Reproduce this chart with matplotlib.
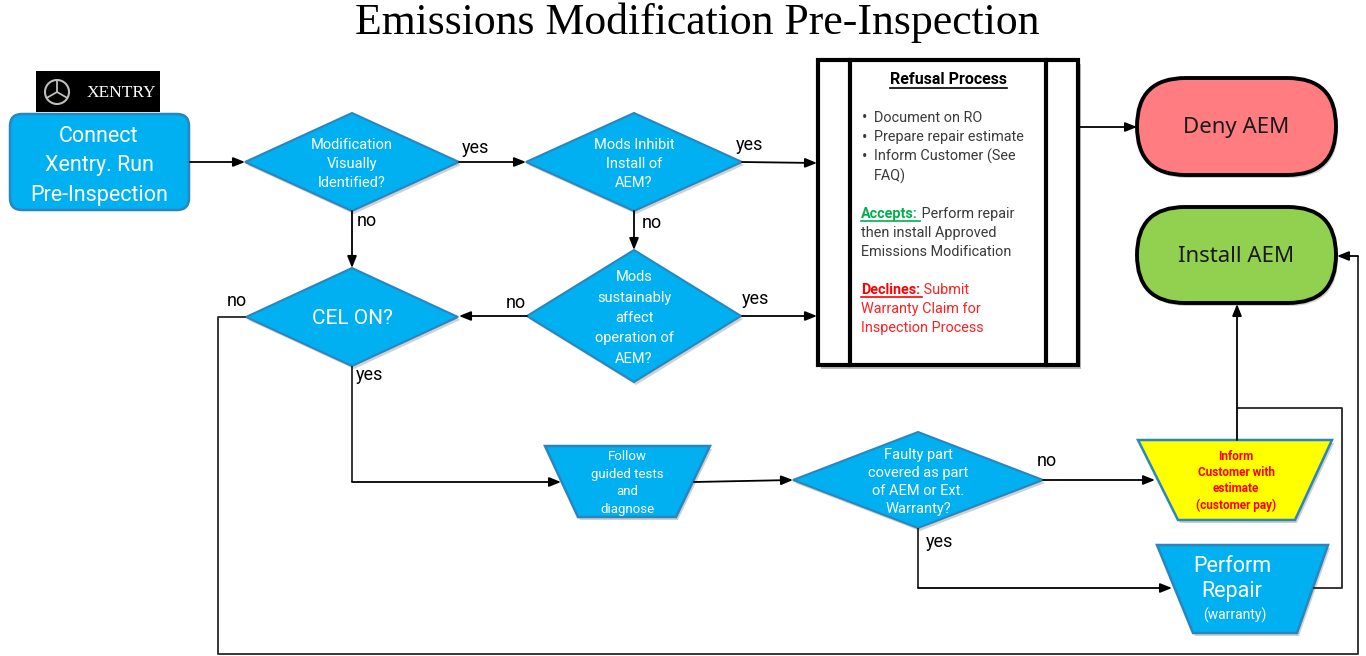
import matplotlib
matplotlib.use("Agg")
import matplotlib.pyplot as plt
from matplotlib.patches import Polygon, FancyBboxPatch, Rectangle, Circle
import numpy as np

# ---------------- content ----------------
title = "Emissions Modification Pre-Inspection"
logo_text = "XENTRY"
start_label = "Connect\nXentry. Run\nPre-Inspection"
decision_labels = [
    "Modification\nVisually\nIdentified?",
    "Mods Inhibit\nInstall of\nAEM?",
    "Mods\nsustainably\naffect\noperation of\nAEM?",
    "CEL ON?",
    "Faulty part\ncovered as part\nof AEM or Ext.\nWarranty?",
]
process_labels = ["Follow\nguided tests\nand\ndiagnose",
                  "Inform\nCustomer with\nestimate\n(customer pay)",
                  "Perform\nRepair"]
warranty_note = "(warranty)"
terminal_labels = ["Deny AEM", "Install AEM"]
refusal_title = "Refusal Process"
refusal_bullets = ["Document on RO", "Prepare repair estimate",
                   "Inform Customer (See", "FAQ)"]
accepts_head = "Accepts:"
accepts_lines = [" Perform repair", "then install Approved", "Emissions Modification"]
declines_head = "Declines:"
declines_lines = [" Submit", "Warranty Claim for", "Inspection Process"]
edge_labels = ["yes", "no"]

# ---------------- styles ----------------
BLUE = "#00B0F0"
BLUE_EDGE = "#2A86BE"
DENY = "#FF7C80"
INSTALL = "#92D050"
YELLOW = "#FFFF00"
LINE = "#262626"
SANS = ["Roboto", "DejaVu Sans"]

fig = plt.figure(figsize=(13.66, 6.56), dpi=100)
ax = fig.add_axes([0, 0, 1, 1])
ax.set_xlim(0, 1366)
ax.set_ylim(656, 0)
ax.axis("off")


def txt(x, y, s, size, color="white", weight="normal", ha="center",
        va="center", ls=1.2, family=SANS, z=6):
    return ax.text(x, y, s, fontsize=size, color=color, fontweight=weight,
                   ha=ha, va=va, linespacing=ls, family=family, zorder=z)


def diamond(cx, cy, hw, hh, label, size=10.5, ls=1.42):
    pts = [(cx - hw, cy), (cx, cy - hh), (cx + hw, cy), (cx, cy + hh)]
    ax.add_patch(Polygon([(px + 2, py + 3) for px, py in pts], closed=True,
                         fc="#d0d0d0", ec="none", zorder=2))
    ax.add_patch(Polygon(pts, closed=True, fc=BLUE, ec=BLUE_EDGE, lw=1.5, zorder=3))
    txt(cx, cy + 2, label, size, ls=ls)


def trap(xtl, xtr, xbl, xbr, yt, yb, fc=BLUE):
    pts = [(xtl, yt), (xtr, yt), (xbr, yb), (xbl, yb)]
    ax.add_patch(Polygon([(px + 2, py + 3) for px, py in pts], closed=True,
                         fc="#d0d0d0", ec="none", zorder=2))
    ax.add_patch(Polygon(pts, closed=True, fc=fc, ec=BLUE_EDGE, lw=1.8, zorder=3))


def conn(pts, head=True):
    pts = list(pts)
    if len(pts) > 2 or not head:
        xs = [p[0] for p in pts[:-1]] if head else [p[0] for p in pts]
        ys = [p[1] for p in pts[:-1]] if head else [p[1] for p in pts]
        ax.plot(xs, ys, color=LINE, lw=1.3, zorder=4, solid_capstyle="butt")
    if head:
        ax.annotate("", xy=pts[-1], xytext=pts[-2],
                    arrowprops=dict(arrowstyle="-|>,head_length=0.7,head_width=0.28",
                                    color="black", lw=1.3, shrinkA=0, shrinkB=0),
                    zorder=5)


def pill(x0, y0, x1, y1, fc, label):
    r = (y1 - y0) / 2
    ax.add_patch(FancyBboxPatch((x0 + 2, y0 + 3), x1 - x0, y1 - y0,
                                boxstyle=f"round,pad=0,rounding_size={r}",
                                fc="#cfcfcf", ec="none", zorder=2))
    ax.add_patch(FancyBboxPatch((x0, y0), x1 - x0, y1 - y0,
                                boxstyle=f"round,pad=0,rounding_size={r}",
                                fc=fc, ec="black", lw=2.8, zorder=3))
    txt((x0 + x1) / 2, (y0 + y1) / 2 + 1, label, 16, color="#1a1a1a",
        family=["Noto Sans", "DejaVu Sans"])


# ---------------- title ----------------
txt(697, 23, title, 31.5, color="black", family=["Liberation Serif", "DejaVu Serif"])

# ---------------- Xentry logo + start ----------------
ax.add_patch(Rectangle((36, 71), 124, 41, fc="black", ec="none", zorder=3))
ax.add_patch(Circle((57, 92), 12, fc="none", ec="#bdbdbd", lw=1.5, zorder=4))
for ang in (90, 210, 330):
    a = np.deg2rad(ang)
    ax.plot([57, 57 + 11 * np.cos(a)], [92, 92 - 11 * np.sin(a)],
            color="#bdbdbd", lw=1.3, zorder=4)
txt(121, 93, logo_text, 12.5, color="white",
    family=["Liberation Serif", "DejaVu Serif"])

ax.add_patch(FancyBboxPatch((10, 114), 179, 96, boxstyle="round,pad=0,rounding_size=12",
                            fc=BLUE, ec=BLUE_EDGE, lw=1.8, zorder=3))
txt(99, 166, start_label, 15.5, ls=1.5)

# ---------------- decisions ----------------
diamond(352, 162, 107, 49, decision_labels[0])
diamond(634, 162, 108, 49, decision_labels[1])
diamond(634, 316, 107, 66, decision_labels[2], ls=1.57)
diamond(352, 317, 106, 49, decision_labels[3], size=15)
diamond(918, 480, 125, 48, decision_labels[4], ls=1.37)

# ---------------- processes ----------------
trap(545, 710, 578, 676, 446, 517)
txt(627, 483, process_labels[0], 9.5, ls=1.46)
trap(1138, 1332, 1178, 1295, 440, 520, fc=YELLOW)
txt(1236, 481, process_labels[1], 8.5, color="#FF0000", weight="bold", ls=1.3)
trap(1157, 1328, 1193, 1297, 545, 633)
txt(1232, 579, process_labels[2], 15.5, ls=1.3)
txt(1235, 615, warranty_note, 10)

# ---------------- terminals ----------------
pill(1137, 78, 1336, 175, DENY, terminal_labels[0])
pill(1137, 207, 1336, 303, INSTALL, terminal_labels[1])

# ---------------- refusal box ----------------
ax.add_patch(Rectangle((821, 64), 260, 305, fc="#bdbdbd", ec="none", zorder=2))
ax.add_patch(Rectangle((818, 60), 260, 305, fc="white", ec="black", lw=3, zorder=3))
for xv in (850, 1046):
    ax.plot([xv, xv], [60, 365], color="black", lw=3, zorder=4)

fig.canvas.draw()
rend = fig.canvas.get_renderer()
inv = ax.transData.inverted()


def extent(t):
    bb = t.get_window_extent(renderer=rend)
    (x0, y0), (x1, y1) = inv.transform([(bb.x0, bb.y0), (bb.x1, bb.y1)])
    return x0, x1, max(y0, y1)


GRAY = "#3a3a3a"
FS = 10.4
t = txt(948, 80, refusal_title, 11.5, color="black", weight="bold")
x0, x1, yb = extent(t)
ax.plot([x0, x1], [yb, yb], color="black", lw=1.2, zorder=6)

for i, s in enumerate(refusal_bullets):
    y = 118 + 19.3 * i
    if s != "FAQ)":
        txt(862, y, "•", FS + 1, color=GRAY, ha="left")
    txt(874, y, s, FS, color=GRAY, ha="left")


def headed(y0, head, col):
    t = txt(861, y0, head, FS, color=col, weight="bold", ha="left")
    x0, x1, yb = extent(t)
    ax.plot([x0, x1 + 2], [yb, yb], color=col, lw=1.2, zorder=6)
    return x1


xe = headed(214, accepts_head, "#00B050")
txt(xe, 214, accepts_lines[0], FS, color=GRAY, ha="left")
for i, s in enumerate(accepts_lines[1:]):
    txt(861, 233 + 19.3 * i, s, FS, color=GRAY, ha="left")

xe = headed(290, declines_head, "#FF0000")
txt(xe, 290, declines_lines[0], FS, color="#FF2020", ha="left")
for i, s in enumerate(declines_lines[1:]):
    txt(861, 309 + 19.3 * i, s, FS, color="#FF2020", ha="left")

# ---------------- connectors ----------------
conn([(190, 162), (245, 162)])
conn([(459, 162), (526, 162)])
conn([(742, 162), (817, 163)])
conn([(352, 211), (352, 268)])
conn([(634, 211), (634, 250)])
conn([(742, 316), (817, 316)])
conn([(527, 316), (459, 316)])
conn([(246, 317), (218, 317), (218, 654), (1358, 654), (1358, 256), (1337, 256)])
conn([(352, 366), (352, 482), (561, 482)])
conn([(694, 482), (793, 480)])
conn([(1043, 480), (1155, 480)])
conn([(918, 528), (918, 588), (1172, 588)])
conn([(1237, 440), (1237, 304)])
conn([(1237, 408), (1342, 408), (1342, 588), (1313, 588)], head=False)
conn([(1078, 127), (1137, 127)])

# ---------------- edge labels ----------------
YES, NO = edge_labels
txt(475, 148, YES, 13, color="black")
txt(750, 145, YES, 13, color="black")
txt(756, 299, YES, 13, color="black")
txt(370, 375, YES, 13, color="black")
txt(940, 542, YES, 13, color="black")
txt(367, 221, NO, 13, color="black")
txt(652, 223, NO, 13, color="black")
txt(516, 303, NO, 13, color="black")
txt(237, 301, NO, 13, color="black")
txt(1047, 461, NO, 13, color="black")

fig.savefig("out.png", dpi=100, facecolor="white")
